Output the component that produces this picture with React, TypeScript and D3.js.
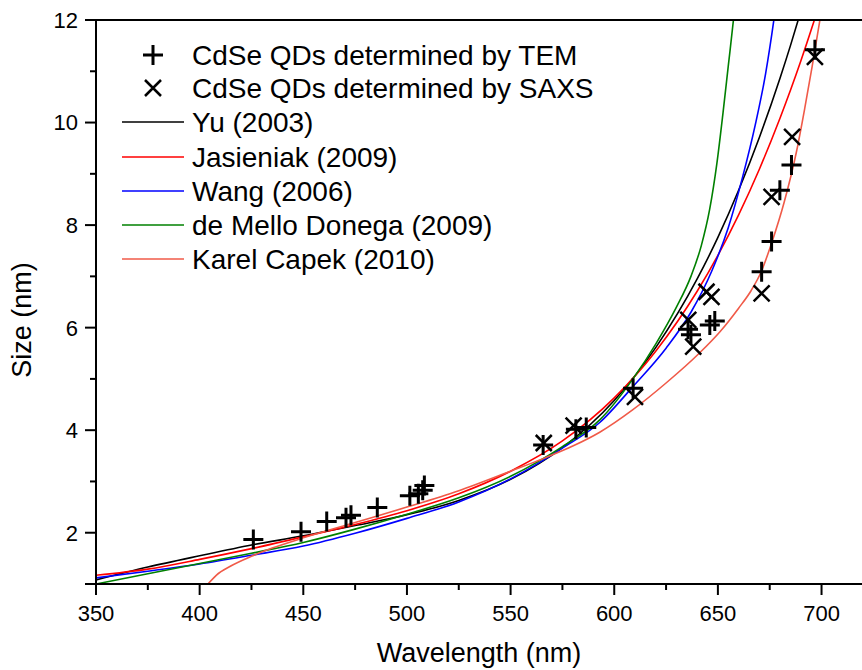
import React from 'react';
import * as d3 from 'd3';

type P = [number, number];

const xMajorTicks = [350, 400, 450, 500, 550, 600, 650, 700];
const xMinorTicks = [375, 425, 475, 525, 575, 625, 675];
const yMajorTicks = [2, 4, 6, 8, 10, 12];
const yMinorTicks = [1, 3, 5, 7, 9, 11];

// TEM sizes (wavelength nm, size nm)
const temPoints: P[] = [
  [425.9, 1.87], [448.9, 2.02], [461.3, 2.22], [470.6, 2.29], [473.0, 2.34],
  [485.7, 2.49], [501.4, 2.72], [505.5, 2.76], [507.6, 2.83], [508.4, 2.92],
  [565.7, 3.71], [581.5, 4.02], [586.5, 4.05], [609.1, 4.82], [635.6, 5.97],
  [637.0, 5.86], [646.1, 6.05], [648.5, 6.13], [671.1, 7.09], [675.9, 7.68],
  [679.9, 8.68], [685.5, 9.17], [696.8, 11.42],
];
// SAXS sizes
const saxsPoints: P[] = [
  [566.0, 3.75], [580.4, 4.09], [610.0, 4.65], [635.7, 6.15], [638.1, 5.63],
  [644.5, 6.70], [646.9, 6.60], [671.1, 6.67], [675.9, 8.55], [685.8, 9.72],
  [696.8, 11.28],
];

const yuCurve: P[] = [
  [350, 1.08], [375, 1.33], [400, 1.55], [425, 1.76], [450, 1.94], [475, 2.14],
  [500, 2.35], [525, 2.63], [550, 3.04], [575, 3.66], [600, 4.58], [620, 5.61],
  [640, 6.95], [650, 7.76], [660, 8.68], [670, 9.71], [680, 10.87], [685, 11.5],
  [690, 12.17],
];
const jasieniakCurve: P[] = [
  [350, 1.17], [375, 1.29], [400, 1.48], [425, 1.69], [450, 1.92], [475, 2.16],
  [500, 2.43], [525, 2.76], [550, 3.2], [575, 3.79], [600, 4.63], [620, 5.54],
  [640, 6.71], [650, 7.41], [660, 8.2], [670, 9.09], [680, 10.09], [685, 10.63],
  [690, 11.2], [696, 11.93], [700, 12.44],
];
const wangCurve: P[] = [
  [350, 1.12], [375, 1.25], [400, 1.39], [425, 1.56], [450, 1.74], [475, 1.99],
  [500, 2.28], [525, 2.6], [550, 3.05], [575, 3.65], [593, 4.15], [609, 4.85],
  [625, 5.6], [637, 6.3], [647, 7.1], [655, 7.95], [662, 8.95], [668, 9.95],
  [673, 10.95], [677, 12.0], [679, 12.6],
];
const deMelloCurve: P[] = [
  [350, 1.0], [375, 1.2], [400, 1.4], [425, 1.6], [450, 1.81], [475, 2.07],
  [500, 2.36], [525, 2.68], [550, 3.1], [575, 3.68], [593, 4.2], [609, 5.0],
  [620, 5.68], [630, 6.4], [637, 7.0], [642, 7.6], [646, 8.3], [649.5, 9.2],
  [652.5, 10.2], [655, 11.1], [657.5, 12.0], [658.5, 12.4],
];
const capekCurve: P[] = [
  [404, 1.0], [408, 1.17], [415, 1.35], [425, 1.54], [435, 1.7], [450, 1.9],
  [475, 2.2], [500, 2.5], [525, 2.82], [550, 3.2], [566, 3.45], [580, 3.69],
  [593, 3.96], [609, 4.4], [625, 4.92], [641, 5.5], [651, 5.92], [660, 6.38],
  [666, 6.72], [671, 7.1], [676, 7.66], [682, 8.45], [688, 9.45], [692, 10.3],
  [695.5, 11.1], [699, 11.95], [702, 12.7],
];

const series = [
  { name: 'Yu (2003)', color: '#000000', data: yuCurve },
  { name: 'Jasieniak (2009)', color: '#ff0000', data: jasieniakCurve },
  { name: 'Wang (2006)', color: '#0000ff', data: wangCurve },
  { name: 'de Mello Donega (2009)', color: '#008000', data: deMelloCurve },
  { name: 'Karel Capek (2010)', color: '#f05a48', data: capekCurve },
];

const FONT = "'Liberation Sans', Arial, Helvetica, sans-serif";

export default function App() {
  const x = d3.scaleLinear().domain([350, 720]).range([96, 863]);
  const y = d3.scaleLinear().domain([1, 12]).range([584, 20]);
  const line = d3
    .line<P>()
    .x((d) => x(d[0]))
    .y((d) => y(d[1]))
    .curve(d3.curveMonotoneX);

  const plus = 'M-10,0H10M0,-10V10';
  const cross = 'M-8,-8L8,8M-8,8L8,-8';

  const legendMarkerRows = [
    { label: 'CdSe QDs determined by TEM', path: plus, sw: 3, y: 55 },
    { label: 'CdSe QDs determined by SAXS', path: cross, sw: 2.5, y: 88 },
  ];
  const legendLineYs = [122, 157, 191, 225, 259];

  return (
    <svg
      width={862}
      height={670}
      style={{ position: 'absolute', left: 0, top: 0, background: '#fff' }}
      fontFamily={FONT}
    >
      <defs>
        <clipPath id="plot">
          <rect x={96} y={20} width={767} height={564} />
        </clipPath>
      </defs>
      <rect x={0} y={0} width={862} height={670} fill="#fff" />

      <g clipPath="url(#plot)">
        {series.map((s) => (
          <path key={s.name} d={line(s.data) || ''} fill="none" stroke={s.color} strokeWidth={1.6} />
        ))}
        {temPoints.map((d, i) => (
          <path key={'t' + i} d={plus} transform={`translate(${x(d[0])},${y(d[1])})`} stroke="#000" strokeWidth={3} fill="none" />
        ))}
        {saxsPoints.map((d, i) => (
          <path key={'s' + i} d={cross} transform={`translate(${x(d[0])},${y(d[1])})`} stroke="#000" strokeWidth={2.5} fill="none" />
        ))}
      </g>

      {/* frame */}
      <line x1={96} x2={96} y1={20} y2={584} stroke="#000" strokeWidth={2} />
      <line x1={85} x2={863} y1={584} y2={584} stroke="#000" strokeWidth={2} />
      <line x1={96} x2={863} y1={20} y2={20} stroke="#000" strokeWidth={2} />

      {/* y ticks */}
      {yMajorTicks.map((t) => (
        <g key={'ym' + t}>
          <line x1={85} x2={96} y1={y(t)} y2={y(t)} stroke="#000" strokeWidth={2} />
          <text x={78} y={y(t)} dy="0.36em" textAnchor="end" fontSize={22}>{t}</text>
        </g>
      ))}
      {yMinorTicks.map((t) => (
        <line key={'yn' + t} x1={90} x2={96} y1={y(t)} y2={y(t)} stroke="#000" strokeWidth={2} />
      ))}

      {/* x ticks */}
      {xMajorTicks.map((t) => (
        <g key={'xm' + t}>
          <line x1={x(t)} x2={x(t)} y1={584} y2={595} stroke="#000" strokeWidth={2} />
          <text x={x(t)} y={621} textAnchor="middle" fontSize={22}>{t}</text>
        </g>
      ))}
      {xMinorTicks.map((t) => (
        <line key={'xn' + t} x1={x(t)} x2={x(t)} y1={584} y2={590} stroke="#000" strokeWidth={2} />
      ))}

      {/* axis titles */}
      <text x={479} y={662} textAnchor="middle" fontSize={27}>Wavelength (nm)</text>
      <text transform="translate(31,320) rotate(-90)" textAnchor="middle" fontSize={27}>Size (nm)</text>

      {/* legend */}
      {legendMarkerRows.map((r) => (
        <g key={r.label}>
          <path d={r.path} transform={`translate(153,${r.y})`} stroke="#000" strokeWidth={r.sw} fill="none" />
          <text x={192} y={r.y} dy="0.36em" fontSize={28}>{r.label}</text>
        </g>
      ))}
      {series.map((s, i) => (
        <g key={'lg' + s.name}>
          <line x1={122} x2={184} y1={legendLineYs[i]} y2={legendLineYs[i]} stroke={s.color} strokeWidth={1.6} />
          <text x={192} y={legendLineYs[i]} dy="0.36em" fontSize={28}>{s.name}</text>
        </g>
      ))}
    </svg>
  );
}
